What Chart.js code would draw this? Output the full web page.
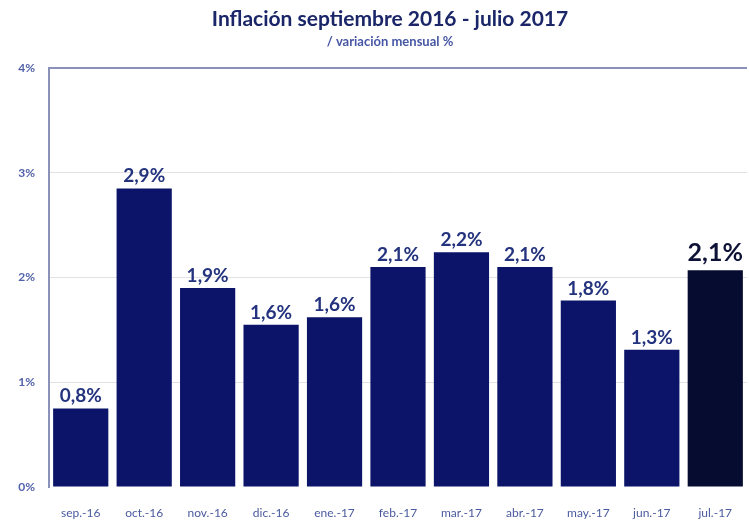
<!DOCTYPE html>
<html>
<head>
<meta charset="utf-8">
<script src="https://cdn.jsdelivr.net/npm/chart.js@4/dist/chart.umd.min.js"></script>
<style>
  html, body { margin: 0; padding: 0; background: #fff; }
  #wrap { width: 749px; height: 521px; }
</style>
</head>
<body>
<div id="wrap"><canvas id="canv"></canvas></div>
<script>
var months = ['sep.-16', 'oct.-16', 'nov.-16', 'dic.-16', 'ene.-17', 'feb.-17',
              'mar.-17', 'abr.-17', 'may.-17', 'jun.-17', 'jul.-17'];
var inflation = [0.75, 2.85, 1.9, 1.55, 1.62, 2.1, 2.24, 2.1, 1.78, 1.31, 2.07];
var valueLabels = ['0,8%', '2,9%', '1,9%', '1,6%', '1,6%', '2,1%',
                   '2,2%', '2,1%', '1,8%', '1,3%', '2,1%'];
var yTicks = [0, 1, 2, 3, 4];
var titleText = 'Inflación septiembre 2016 - julio 2017';
var subtitleText = '/ variación mensual %';

var barColors = [];
for (var i = 0; i < months.length; i++) {
  barColors.push(i == months.length - 1 ? '#060b30' : '#0b1468');
}

// labels on top of bars + the heading (centred over the plot, like the original)
var topLabels = {
  id: 'topLabels',
  afterDatasetsDraw: function(chart) {
    var ctx = chart.ctx;
    var meta = chart.getDatasetMeta(0);
    ctx.save();
    ctx.textAlign = 'center';
    ctx.textBaseline = 'alphabetic';
    meta.data.forEach(function(bar, i) {
      var last = i == meta.data.length - 1;
      ctx.font = last ? 'bold 25px Lato' : 'bold 19px Lato';
      ctx.fillStyle = last ? '#0d1236' : '#24337e';
      ctx.fillText(valueLabels[i], bar.x, bar.y - (last ? 9 : 6));
    });

    var cx = 390;
    ctx.font = 'bold 21px Lato';
    ctx.fillStyle = '#1a2668';
    ctx.fillText(titleText, cx, 26);
    ctx.font = 'bold 13px Lato';
    ctx.fillStyle = '#4656a4';
    ctx.fillText(subtitleText, cx, 46);
    ctx.restore();
  }
};

chart = new Chart(document.getElementById('canv'), {
  type: 'bar',
  data: {
    labels: months,
    datasets: [{
      data: inflation,
      backgroundColor: barColors,
      barPercentage: 0.87,
      categoryPercentage: 1
    }]
  },
  plugins: [topLabels],
  options: {
    responsive: true,
    maintainAspectRatio: false,
    animation: false,
    layout: { padding: { top: 68, right: 2, left: 0, bottom: 0 } },
    plugins: {
      legend: { display: false },
      tooltip: { enabled: false },
      title: { display: false }
    },
    scales: {
      x: {
        grid: { display: false },
        border: { display: false },
        ticks: {
          color: '#4a5a9e',
          font: { family: 'Lato', size: 12 },
          padding: 11,
          maxRotation: 0
        },
        afterFit: function(axis) { axis.height = 34; }
      },
      y: {
        min: 0,
        max: 4,
        afterBuildTicks: function(axis) {
          axis.ticks = yTicks.map(function(v) { return { value: v }; });
        },
        ticks: {
          color: '#5262aa',
          font: { family: 'Lato', size: 12, weight: 'bold' },
          padding: 14,
          callback: function(v) { return v + '%'; }
        },
        grid: {
          drawTicks: false,
          color: function(c) {
            if (c.tick.value == 4) return '#8a92ba';
            if (c.tick.value == 0) return 'rgba(0,0,0,0)';
            return '#e2e2e2';
          },
          lineWidth: function(c) { return c.tick.value == 4 ? 2 : 1; }
        },
        border: { display: true, color: '#8a92ba', width: 2 },
        afterFit: function(axis) { axis.width = 49; }
      }
    }
  }
});
</script>
</body>
</html>
